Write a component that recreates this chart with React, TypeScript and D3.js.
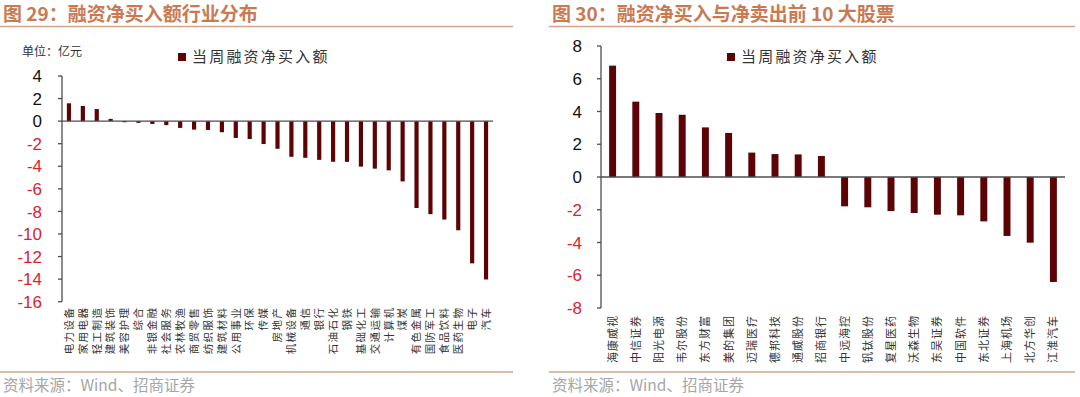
import * as d3 from "d3"

// left panel: industry distribution (亿元)
const industries = [
  "电力设备", "家用电器", "轻工制造", "建筑装饰", "美容护理", "综合", "非银金融", "社会服务",
  "农林牧渔", "商贸零售", "纺织服饰", "建筑材料", "公用事业", "环保", "传媒", "房地产",
  "机械设备", "通信", "银行", "石油石化", "钢铁", "基础化工", "交通运输", "计算机",
  "煤炭", "有色金属", "国防军工", "食品饮料", "医药生物", "电子", "汽车",
]
const industryValues = [
  1.58, 1.34, 1.07, 0.2, -0.1, -0.15, -0.25, -0.35,
  -0.6, -0.75, -0.78, -0.98, -1.49, -1.58, -2.03, -2.45,
  -3.16, -3.25, -3.43, -3.6, -3.61, -4.03, -4.21, -4.36,
  -5.34, -7.7, -8.24, -8.72, -9.67, -12.6, -14.03,
]
const leftTicks = [4, 2, 0, -2, -4, -6, -8, -10, -12, -14, -16]

// right panel: top 10 net buy / net sell stocks
const stocks = [
  "海康威视", "中信证券", "阳光电源", "韦尔股份", "东方财富", "美的集团", "迈瑞医疗", "德邦科技",
  "通威股份", "招商银行", "中远海控", "钒钛股份", "复星医药", "沃森生物", "东吴证券", "中国软件",
  "东北证券", "上海机场", "北方华创", "江淮汽车",
]
const stockValues = [
  6.8, 4.6, 3.91, 3.8, 3.03, 2.69, 1.49, 1.4,
  1.38, 1.28, -1.79, -1.85, -2.08, -2.2, -2.3, -2.34,
  -2.71, -3.6, -4.01, -6.41,
]
const rightTicks = [8, 6, 4, 2, 0, -2, -4, -6, -8]

const legendLabel = "当周融资净买入额"
const BAR = "#5c0306"
const AXIS = "#4d4d4d"
const RED = "#d8242b"
const TITLE = "#c97a52"
const RULE = "#cfa48c"
const CJK = "'Noto Sans CJK SC', 'Noto Sans', sans-serif"
const NUM = "'Liberation Sans', Arial, sans-serif"

interface PanelProps {
  cats: string[]
  values: number[]
  ticks: number[]
  x0: number
  x1: number
  yTop: number
  yBottom: number
  labelSize: number
  labelGap: number
  labelSpacing: number
  tickRight: number
  padding: number
}

function Panel(p: PanelProps) {
  const { cats, values, ticks, x0, x1, yTop, yBottom, labelSize, labelGap, labelSpacing, tickRight, padding } = p
  const x = d3.scaleBand<string>().domain(cats).range([x0, x1]).paddingInner(padding).paddingOuter(padding / 2)
  const y = d3
    .scaleLinear()
    .domain([d3.min(ticks)!, d3.max(ticks)!])
    .range([yBottom, yTop])
  const zero = y(0)

  return (
    <g>
      {cats.map((c, i) => {
        const v = values[i]
        return (
          <rect
            key={c}
            x={x(c)}
            width={x.bandwidth()}
            y={Math.min(y(v), zero)}
            height={Math.abs(y(v) - zero)}
            fill={BAR}
          />
        )
      })}
      <line x1={x0} x2={x1} y1={zero} y2={zero} stroke={AXIS} strokeWidth={1.3} />
      <line x1={x0} x2={x0} y1={yTop} y2={yBottom} stroke={AXIS} strokeWidth={1.3} />
      {ticks.map((t) => (
        <g key={t}>
          <line x1={x0 - 4} x2={x0} y1={y(t)} y2={y(t)} stroke={AXIS} strokeWidth={1.3} />
          <text
            x={tickRight}
            y={y(t)}
            dy="0.36em"
            textAnchor="end"
            fontFamily={NUM}
            fontSize={17}
            fill={t < 0 ? RED : "#111"}
          >
            {t}
          </text>
        </g>
      ))}
      {cats.map((c) => {
        // labels run bottom-to-top, ending just under the axis
        const cx = x(c)! + x.bandwidth() / 2
        const ty = yBottom + labelGap
        return (
          <text
            key={c}
            transform={`translate(${cx},${ty}) rotate(-90)`}
            textAnchor="end"
            dy="0.36em"
            fontFamily={CJK}
            fontSize={labelSize}
            letterSpacing={labelSpacing}
            fill="#333"
          >
            {c}
          </text>
        )
      })}
    </g>
  )
}

function Legend({ x, y }: { x: number; y: number }) {
  return (
    <g>
      <rect x={x} y={y - 4} width={8} height={8} fill={BAR} />
      <text x={x + 14} y={y} dy="0.36em" fontFamily={CJK} fontSize={15} letterSpacing={2.2} fill="#333">
        {legendLabel}
      </text>
    </g>
  )
}

function Frame({ x, width, title }: { x: number; width: number; title: string }) {
  return (
    <g>
      <text x={x + 3} y={21} fontFamily={CJK} fontSize={19} fontWeight={700} fill={TITLE}>
        {title}
      </text>
      <line x1={x} x2={x + width} y1={26.5} y2={26.5} stroke={RULE} strokeWidth={1.5} />
      <line x1={x} x2={x + width} y1={372} y2={372} stroke={RULE} strokeWidth={1.5} />
      <text x={x + 3} y={391} fontFamily={CJK} fontSize={15.5} fill="#a6a6a6">
        资料来源：Wind、招商证券
      </text>
    </g>
  )
}

export default function App() {
  return (
    <div style={{ position: "absolute", left: 0, top: 0 }}>
      <svg width={1080} height={397} viewBox="0 0 1080 397" style={{ display: "block", background: "#fff" }}>
        <Frame x={0} width={513} title="图 29：融资净买入额行业分布" />
        <Frame x={549} width={526} title="图 30：融资净买入与净卖出前 10 大股票" />
        <text x={22} y={52} dy="0.36em" fontFamily={CJK} fontSize={12} fill="#333">
          单位：亿元
        </text>
        <Legend x={178} y={57} />
        <Legend x={727} y={57} />
        <Panel
          cats={industries}
          values={industryValues}
          ticks={leftTicks}
          x0={62}
          x1={493}
          yTop={76}
          yBottom={301.7}
          labelSize={10.5}
          labelGap={5}
          labelSpacing={1.4}
          tickRight={42}
          padding={0.7}
        />
        <Panel
          cats={stocks}
          values={stockValues}
          ticks={rightTicks}
          x0={601}
          x1={1065}
          yTop={46}
          yBottom={308}
          labelSize={11}
          labelGap={7}
          labelSpacing={1}
          tickRight={582}
          padding={0.7}
        />
      </svg>
    </div>
  )
}
